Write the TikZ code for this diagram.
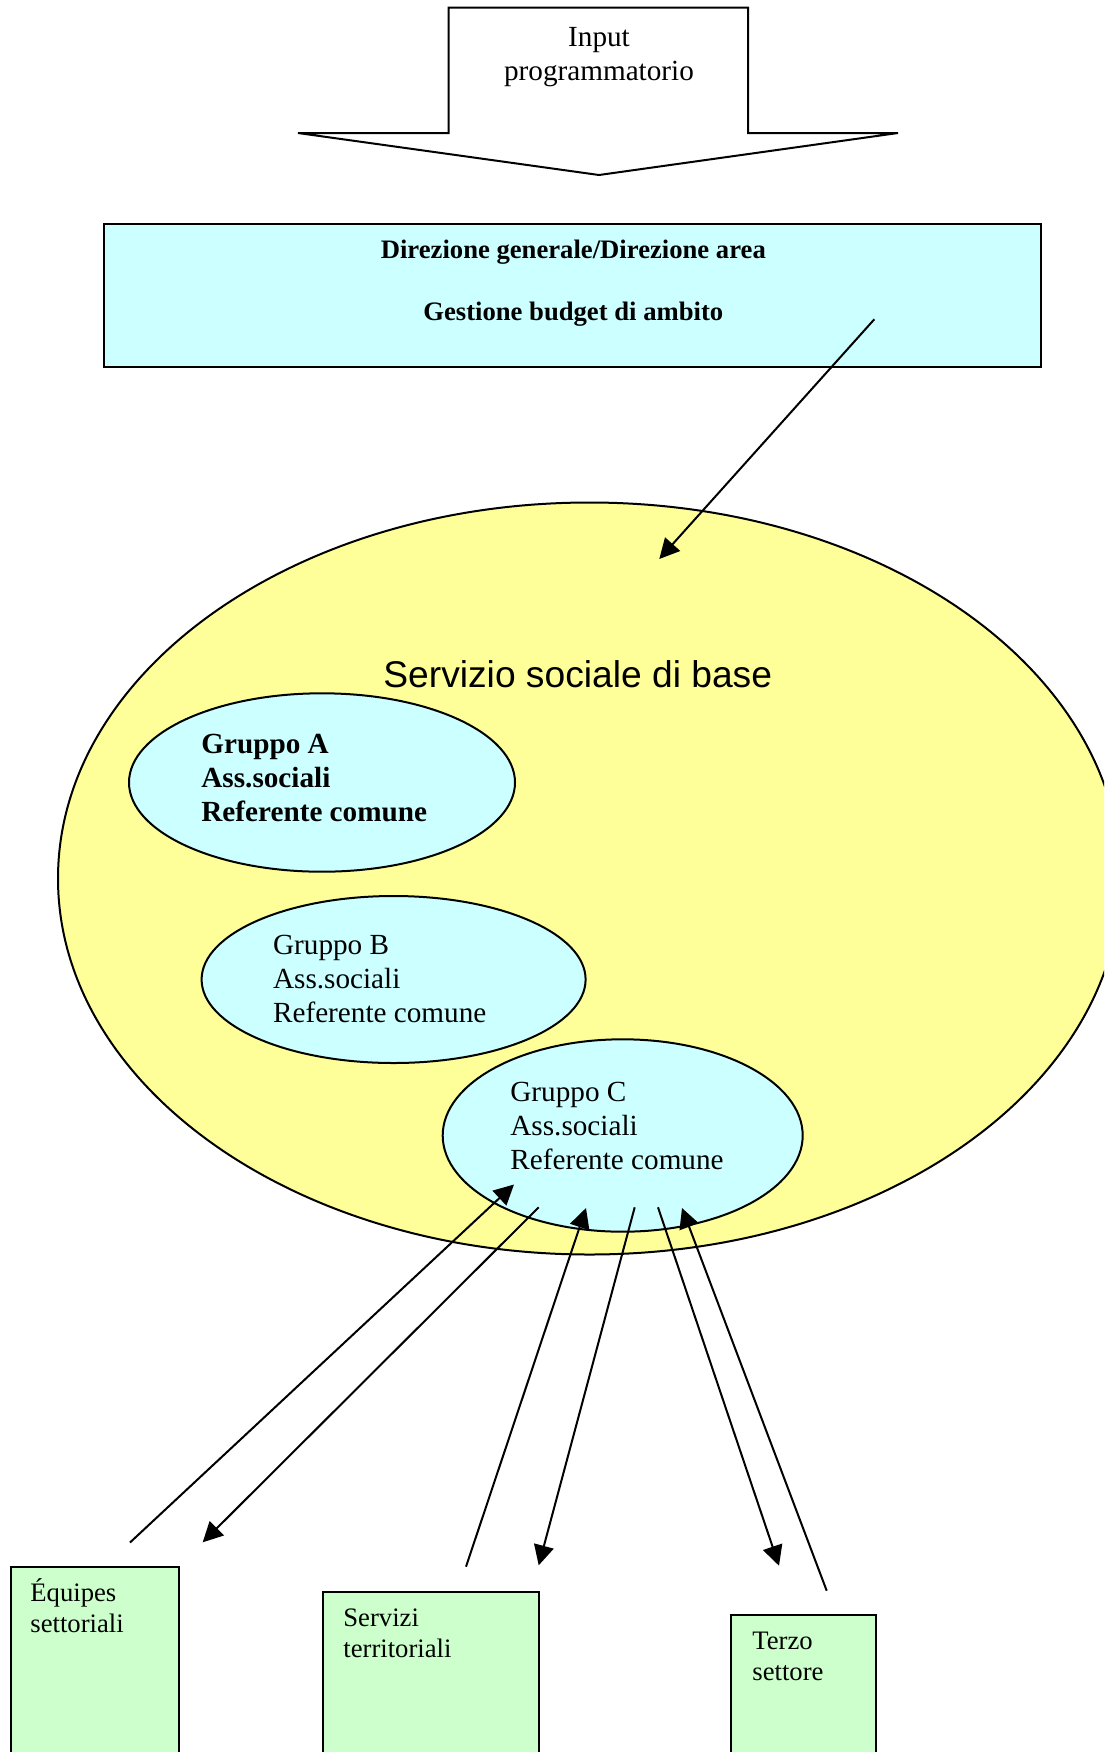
\documentclass[tikz,border=0pt]{standalone}
\usepackage{fontspec}
\setmainfont{Liberation Serif}
\newfontfamily\arialfont{Liberation Sans}
\usetikzlibrary{shapes.geometric,arrows.meta}
\definecolor{lcyan}{HTML}{CCFFFF}
\definecolor{lyellow}{HTML}{FFFF99}
\definecolor{lgreen}{HTML}{CCFFCC}
\newcommand{\bodyfont}{\fontsize{14.6pt}{17pt}\selectfont}
\newcommand{\smallfont}{\fontsize{13.33pt}{15.6pt}\selectfont}
\newcommand{\linesl}[1]{\begin{tabular}[t]{@{}l@{}}#1\end{tabular}}
\newcommand{\linesc}[1]{\begin{tabular}[t]{@{}c@{}}#1\end{tabular}}
\tikzset{
  conn/.style={line width=1pt, -{Triangle[length=10pt,width=10pt]}},
  grp/.style={ellipse, draw, line width=1pt, fill=lcyan, inner sep=0pt},
  lbl/.style={inner sep=0pt, anchor=base west, font=\bodyfont},
  slbl/.style={inner sep=0pt, anchor=base west, font=\smallfont},
  greenbox/.style={draw, line width=1pt, fill=lgreen, anchor=north west, inner sep=0pt},
}
\begin{document}
\begin{tikzpicture}[x=0.5pt,y=-0.5pt]
\useasboundingbox (0,0) rectangle (1104,1752);
\clip (0,0) rectangle (1104,1752);
\fill[white] (0,0) rectangle (1104,1752);

% block arrow "Input programmatorio"
\draw[line width=1pt, fill=white] (448.5,7.5) -- (748,7.5) -- (748,133) -- (898,133)
  -- (599,175) -- (298,133) -- (448.5,133) -- cycle;
\node[inner sep=0pt, anchor=base, font=\bodyfont] (input) at (599,46)
  {\linesc{Input\\programmatorio}};

% top box
\node[draw, line width=1pt, fill=lcyan, inner sep=0pt, minimum width=468.5pt,
  minimum height=71.4pt] (dir) at (572.5,295.4) {};
\node[inner sep=0pt, anchor=base, font=\smallfont\bfseries] (dirtxt) at (573.3,258.3)
  {\linesc{Direzione generale/Direzione area\\ \\Gestione budget di ambito}};

% big ellipse
\node[ellipse, draw, line width=1pt, fill=lyellow, inner sep=0pt,
  minimum width=531.5pt, minimum height=376pt] (ssb) at (589.5,878.5) {};
\node[inner sep=0pt, anchor=base west, font=\arialfont\fontsize{18.6pt}{22pt}\selectfont]
  (ssbtxt) at (383,687) {Servizio sociale di base};

% groups
\node[grp, minimum width=193pt, minimum height=89.2pt] (ga) at (322,782.5) {};
\node[lbl, font=\bodyfont\bfseries] (gatxt) at (201,753.3)
  {\linesl{Gruppo A\\Ass.sociali\\Referente comune}};
\node[grp, minimum width=192pt, minimum height=83.5pt] (gb) at (393.6,979.5) {};
\node[lbl] (gbtxt) at (272.7,954)
  {\linesl{Gruppo B\\Ass.sociali\\Referente comune}};
\node[grp, minimum width=180pt, minimum height=96.2pt] (gc) at (622.7,1135.5) {};
\node[lbl] (gctxt) at (510,1101.7)
  {\linesl{Gruppo C\\Ass.sociali\\Referente comune}};

% bottom boxes
\node[greenbox, minimum width=84pt, minimum height=120pt] (eq) at (10,1566) {};
\node[slbl] (eqtxt) at (30,1601.4) {\linesl{Équipes\\settoriali}};
\node[greenbox, minimum width=108pt, minimum height=120pt] (st) at (322,1590.5) {};
\node[slbl] (sttxt) at (343,1626) {\linesl{Servizi\\territoriali}};
\node[greenbox, minimum width=72.5pt, minimum height=120pt] (ts) at (730,1614.3) {};
\node[slbl] (tstxt) at (752,1649.5) {\linesl{Terzo\\settore}};

% connector end points
\coordinate (d0) at (874.3,319.3);
\coordinate (d1) at (659.3,559);
\coordinate (a1s) at (130,1542.5);
\coordinate (a1e) at (514,1184.5);
\coordinate (a2s) at (538.7,1207.3);
\coordinate (a2e) at (202.7,1542.3);
\coordinate (a3s) at (466,1566.7);
\coordinate (a3e) at (586,1208);
\coordinate (a4s) at (634.7,1207.3);
\coordinate (a4e) at (538.7,1565.3);
\coordinate (a5s) at (658,1207.3);
\coordinate (a5e) at (779,1565.7);
\coordinate (a6s) at (826.7,1590.7);
\coordinate (a6e) at (682,1208);

\draw[conn] (d0) -- (d1);
\draw[conn] (a1s) -- (a1e);
\draw[conn] (a2s) -- (a2e);
\draw[conn] (a3s) -- (a3e);
\draw[conn] (a4s) -- (a4e);
\draw[conn] (a5s) -- (a5e);
\draw[conn] (a6s) -- (a6e);
\end{tikzpicture}
\end{document}
